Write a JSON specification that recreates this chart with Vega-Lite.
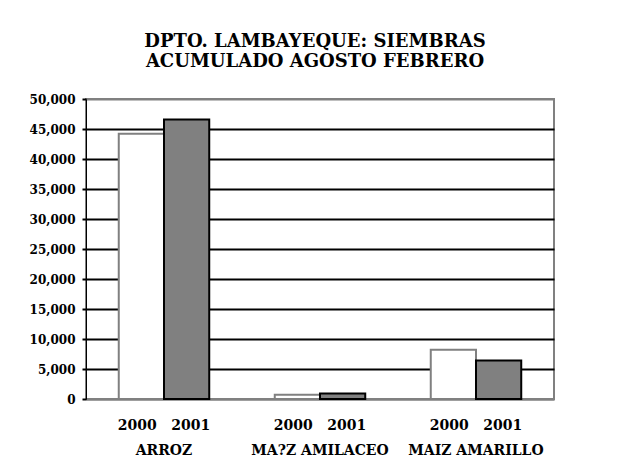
{
  "$schema": "https://vega.github.io/schema/vega-lite/v6.json",
  "autosize": "none",
  "width": 468,
  "height": 300,
  "padding": {"left": 86, "top": 99, "right": 64, "bottom": 73},
  "background": "white",
  "title": {
    "text": ["DPTO. LAMBAYEQUE: SIEMBRAS", "ACUMULADO AGOSTO FEBRERO"],
    "font": "DejaVu Serif",
    "fontSize": 18,
    "fontWeight": "bold",
    "color": "black",
    "lineHeight": 20,
    "anchor": "middle",
    "offset": 22,
    "dx": -5
  },
  "data": {
    "values": [
      {"crop": "ARROZ", "year": "2000", "value": 44200},
      {"crop": "ARROZ", "year": "2001", "value": 46600},
      {"crop": "MA?Z AMILACEO", "year": "2000", "value": 700},
      {"crop": "MA?Z AMILACEO", "year": "2001", "value": 900},
      {"crop": "MAIZ AMARILLO", "year": "2000", "value": 8200},
      {"crop": "MAIZ AMARILLO", "year": "2001", "value": 6400}
    ]
  },
  "mark": {"type": "bar", "strokeWidth": 2},
  "encoding": {
    "x": {
      "field": "crop",
      "type": "nominal",
      "sort": null,
      "scale": {"paddingInner": 0.42, "paddingOuter": 0.21},
      "axis": {
        "title": null,
        "labelAngle": 0,
        "ticks": false,
        "domainColor": "#808080",
        "domainWidth": 2,
        "labelFont": "DejaVu Serif",
        "labelFontSize": 14,
        "labelFontWeight": "bold",
        "labelColor": "black",
        "labelPadding": 19,
        "labelBaseline": "top",
        "labelLineHeight": 25,
        "labelOverlap": false,
        "labelExpr": "['2000\u00a0\u00a0\u00a02001', datum.value]"
      }
    },
    "xOffset": {"field": "year", "type": "nominal", "scale": {"paddingInner": 0, "paddingOuter": 0}},
    "y": {
      "field": "value",
      "type": "quantitative",
      "scale": {"domain": [0, 50000], "nice": false},
      "axis": {
        "title": null,
        "values": [0, 5000, 10000, 15000, 20000, 25000, 30000, 35000, 40000, 45000, 50000],
        "format": ",.0f",
        "grid": true,
        "gridColor": {"condition": {"test": "datum.value == 0 || datum.value == 50000", "value": "#808080"}, "value": "black"},
        "gridWidth": 2,
        "tickColor": "black",
        "tickWidth": 2,
        "tickSize": 4,
        "domainColor": "black",
        "domainWidth": 1,
        "labelFont": "DejaVu Serif",
        "labelFontSize": 12,
        "labelFontWeight": "bold",
        "labelColor": "black",
        "labelPadding": 7
      }
    },
    "fill": {
      "field": "year",
      "type": "nominal",
      "scale": {"domain": ["2000", "2001"], "range": ["white", "#808080"]},
      "legend": null
    },
    "stroke": {
      "field": "year",
      "type": "nominal",
      "scale": {"domain": ["2000", "2001"], "range": ["#808080", "black"]},
      "legend": null
    }
  },
  "config": {
    "view": {"stroke": "#808080", "strokeWidth": 2}
  }
}
